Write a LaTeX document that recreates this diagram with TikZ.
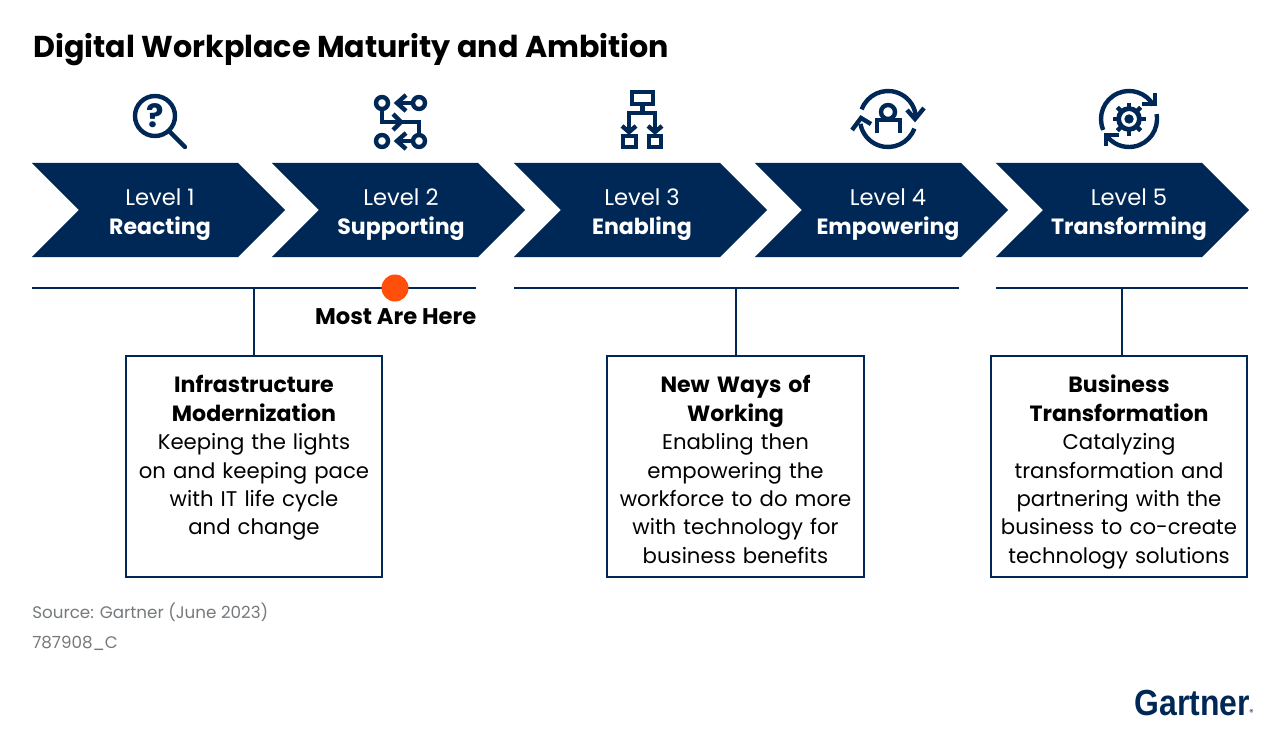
\documentclass[tikz,border=0pt]{standalone}
\usepackage{graphicx}
\usepackage{fontspec}
\setmainfont{Poppins}
\newfontfamily\logofont{Liberation Sans}
\usetikzlibrary{shapes.symbols, positioning, calc}
\definecolor{navy}{HTML}{002856}
\definecolor{dotorange}{HTML}{FF4F0A}
\definecolor{sourcegray}{HTML}{75797C}
\newcommand{\boxhead}[1]{{\fontsize{15.7}{20.2}\selectfont\bfseries #1}}
\newcommand{\boxtop}{\rule{0pt}{23pt}}
\newcommand{\levelname}[1]{{\fontsize{15.7}{20.6}\selectfont\bfseries #1}}

\begin{document}
\begin{tikzpicture}[
    x=0.025cm, y=-0.025cm,
    level/.style={signal, signal from=west, signal to=east, signal pointer angle=90, fill=navy, minimum width=6.325cm, minimum height=2.35cm, inner sep=0pt, outer sep=0pt},
    leveltext/.style={text=white, inner sep=0pt, align=center, font=\fontsize{16.1}{20.6}\selectfont},
    infobox/.style={rectangle, draw=navy, line width=0.05cm, fill=white, minimum width=6.4cm, minimum height=5.53cm, text width=6.2cm, inner sep=0pt, align=center, font=\fontsize{15.1}{20.2}\selectfont},
    rule/.style={draw=navy, line width=0.05cm},
    icon/.style={draw=navy, line width=0.11cm}
]
\useasboundingbox (0,0) rectangle (1280,729);

\node (title) [anchor=base west, inner sep=0pt, font=\fontsize{21.45}{26}\selectfont\bfseries] at (33,58) {Digital Workplace Maturity and Ambition};

\node (lvla) [level] at (158.5,210) {};
\node (lvlb) [level] at (398.5,210) {};
\node (lvlc) [level] at (640.5,210) {};
\node (lvld) [level] at (881.5,210) {};
\node (lvle) [level] at (1122.5,210) {};
\node (lvlatext) [leveltext] at (160,214.5) {\strut Level 1\\\levelname{Reacting}\strut};
\node (lvlbtext) [leveltext] at (401,214.5) {\strut Level 2\\\levelname{Supporting}\strut};
\node (lvlctext) [leveltext] at (642,214.5) {\strut Level 3\\\levelname{Enabling}\strut};
\node (lvldtext) [leveltext] at (888,214.5) {\strut Level 4\\\levelname{Empowering}\strut};
\node (lvletext) [leveltext] at (1129,214.5) {\strut Level 5\\\levelname{Transforming}\strut};

\coordinate (rulea) at (32,288);
\coordinate (ruleb) at (476,288);
\coordinate (rulec) at (514,288);
\coordinate (ruled) at (959,288);
\coordinate (rulee) at (996,288);
\coordinate (rulef) at (1248,288);
\draw [rule] (rulea) -- (ruleb);
\draw [rule] (rulec) -- (ruled);
\draw [rule] (rulee) -- (rulef);

\node (here) [circle, fill=dotorange, minimum size=0.675cm, inner sep=0pt] at (395,288) {};
\node (herelabel) [anchor=base east, inner sep=0pt, font=\fontsize{16.1}{20}\selectfont\bfseries] at (476.5,324) {Most Are Here};

\node (infra) [infobox] at (254,466.2) {\boxtop\boxhead{Infrastructure}\\\boxhead{Modernization}\\Keeping the lights\\on and keeping pace\\with IT life cycle\\and change\\\strut};
\node (ways) [infobox] at (735.5,466.2) {\boxtop\boxhead{New Ways of}\\\boxhead{Working}\\Enabling then\\empowering the\\workforce to do more\\with technology for\\business benefits\strut};
\node (biz) [infobox] at (1119,466.2) {\boxtop\boxhead{Business}\\\boxhead{Transformation}\\Catalyzing\\transformation and\\partnering with the\\business to co-create\\technology solutions\strut};

\coordinate (tapa) at (254,288);
\coordinate (tapb) at (736,288);
\coordinate (tapc) at (1122,288);
\draw [rule] (tapa) -- (tapa |- infra.north);
\draw [rule] (tapb) -- (tapb |- ways.north);
\draw [rule] (tapc) -- (tapc |- biz.north);

\node (source) [anchor=base west, inner sep=0pt, text=sourcegray, font=\fontsize{11.9}{15}\selectfont] at (32,618) {Source: Gartner (June 2023)};
\node (docid) [anchor=base west, inner sep=0pt, text=sourcegray, font=\fontsize{11.9}{15}\selectfont] at (32,648) {787908\_C};

\node (logo) [anchor=base west, inner sep=0pt, text=navy, font=\fontsize{25.8}{30}\logofont\bfseries] at (1134.5,715) {\scalebox{0.88}[1]{Gartner}};
\node (logomark) [anchor=base west, inner sep=0pt, text=navy, font=\fontsize{6}{7}\selectfont] at (1249,715) {®};

% level 1 icon
\draw [icon] (155,116) circle (20);
\draw [icon, line cap=round] (169,131) -- (185,147);
\node (qmark) [inner sep=0pt, text=navy, font=\fontsize{23}{26}\selectfont\bfseries] at (155,116) {?};

% level 2 icon
\foreach \cx/\cy in {382/103, 419/103, 382/141, 419/141}
    \draw [icon] (\cx,\cy) circle (6);
\draw [icon] (413,103) -- (397,103);
\draw [icon] (406,95) -- (397,103) -- (406,111);
\draw [icon] (413,141) -- (397,141);
\draw [icon] (406,133) -- (397,141) -- (406,149);
\draw [icon] (382,109) -- (382,122) -- (419,122) -- (419,135);
\draw [icon] (393,114) -- (401,122) -- (393,130);

% level 3 icon
\draw [icon] (632,92) rectangle (653,104);
\draw [icon] (642.5,104) -- (642.5,113);
\draw [icon] (629,131) -- (629,113) -- (655,113) -- (655,131);
\foreach \cx in {629, 655}
    \draw [icon] (\cx-7,126) -- (\cx,132) -- (\cx+7,126);
\draw [icon] (623,136) rectangle (636,147);
\draw [icon] (649,136) rectangle (661,147);

% level 4 icon
\draw [icon] (888,119) ++(200:28) arc (200:352:28);
\draw [icon] (888,119) ++(20:28) arc (20:170:28);
\draw [icon] (907,110) -- (915,119) -- (924,108);
\draw [icon] (852,130) -- (861,118) -- (871,124);
\draw [icon] (888,112) circle (7);
\draw [icon] (877,133) -- (877,120) -- (900,120) -- (900,133);

% level 5 icon
\draw [icon] (1129,119) ++(157:28) arc (157:330:28);
\draw [icon] (1129,119) ++(-10:28) arc (-10:145:28);
\draw [icon] (1155,93) -- (1155,104) -- (1142,104);
\draw [icon] (1106,146) -- (1106,135) -- (1119,135);
\foreach \ang in {0,45,...,315}
    \draw [icon] (1129,119) ++(\ang:10) -- ++(\ang:6.5);
\draw [navy, line width=0.12cm] (1129,119) circle (10.4);
\fill [navy] (1129,119) circle (4.7);

\end{tikzpicture}
\end{document}
